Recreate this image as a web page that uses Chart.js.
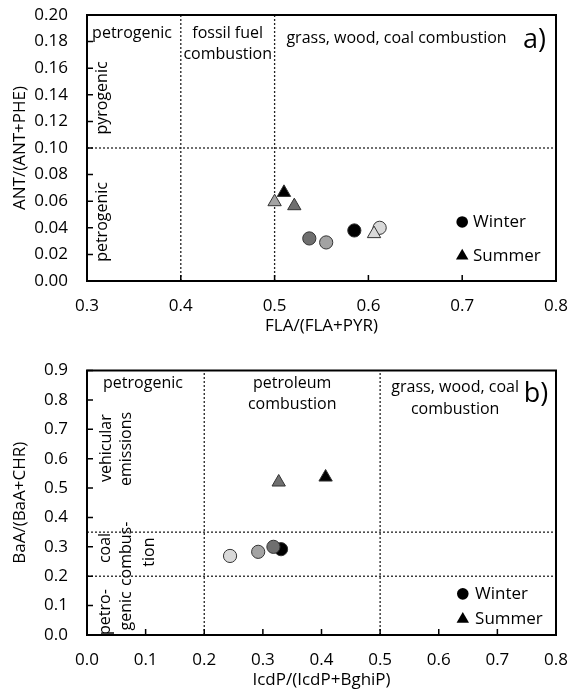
<!DOCTYPE html>
<html>
<head>
<meta charset="utf-8">
<script src="https://cdn.jsdelivr.net/npm/chart.js@4.4.1/dist/chart.umd.min.js"></script>
<style>
  html, body { margin: 0; padding: 0; background: #fff; overflow: hidden; }
  .panel { position: absolute; left: 0; width: 570px; overflow: hidden; }
  .panel canvas { display: block; }
  #wrapA { top: 0; height: 335px; }
  #wrapB { top: 335px; height: 354px; }
</style>
</head>
<body>
<div class="panel" id="wrapA"><canvas id="chartA"></canvas></div>
<div class="panel" id="wrapB"><canvas id="chartB"></canvas></div>
<script>
/* ---- panel a) FLA/(FLA+PYR) vs ANT/(ANT+PHE) ---- */
const aWinterX = [0.537, 0.555, 0.585, 0.612];
const aWinterY = [0.032, 0.029, 0.038, 0.040];
const aWinterShade = ['dark', 'mid', 'black', 'light'];
const aSummerX = [0.500, 0.510, 0.521, 0.606];
const aSummerY = [0.0595, 0.0665, 0.0565, 0.0355];
const aSummerShade = ['mid', 'black', 'dark', 'light'];
const aXTicks = [0.3, 0.4, 0.5, 0.6, 0.7, 0.8];
const aYTicks = [0, 0.02, 0.04, 0.06, 0.08, 0.10, 0.12, 0.14, 0.16, 0.18, 0.20];
const aDivX = [0.4, 0.5];
const aDivY = [0.1];

/* ---- panel b) IcdP/(IcdP+BghiP) vs BaA/(BaA+CHR) ---- */
const bWinterX = [0.244, 0.292, 0.331, 0.318];
const bWinterY = [0.269, 0.283, 0.292, 0.300];
const bWinterShade = ['light', 'mid', 'black', 'dark'];
const bSummerX = [0.327, 0.407];
const bSummerY = [0.520, 0.537];
const bSummerShade = ['dark', 'black'];
const bXTicks = [0, 0.1, 0.2, 0.3, 0.4, 0.5, 0.6, 0.7, 0.8];
const bYTicks = [0, 0.1, 0.2, 0.3, 0.4, 0.5, 0.6, 0.7, 0.8, 0.9];
const bDivX = [0.2, 0.5];
const bDivY = [0.2, 0.35];

var SHADES = { black: '#000000', dark: '#6f6f6f', mid: '#a3a3a3', light: '#d9d9d9' };
var FONT = '"Open Sans", "DejaVu Sans", sans-serif';
Chart.defaults.font.family = FONT;
Chart.defaults.color = '#000';

function pts(xs, ys) { return xs.map(function (x, i) { return { x: x, y: ys[i] }; }); }

function dividers(divX, divY, xt, yt) {
  var out = [];
  divX.forEach(function (x) { out.push([{ x: x, y: yt[0] }, { x: x, y: yt[yt.length - 1] }]); });
  divY.forEach(function (y) { out.push([{ x: xt[0], y: y }, { x: xt[xt.length - 1], y: y }]); });
  return out.map(function (d) {
    return { data: d, showLine: true, borderColor: '#222', borderWidth: 1.3,
             borderDash: [2, 2], pointRadius: 0, order: 10 };
  });
}

/* frame, inward ticks, region texts and the legend */
var panelPlugin = {
  id: 'panel',
  afterDraw: function (chart) {
    var o = chart.options.plugins.panel;
    var ctx = chart.ctx, a = chart.chartArea;
    var sx = chart.scales.x, sy = chart.scales.y;
    ctx.save();
    ctx.strokeStyle = '#000';
    ctx.lineWidth = 1.5;
    ctx.beginPath();
    sy.ticks.forEach(function (t) {
      var p = sy.getPixelForValue(t.value);
      ctx.moveTo(a.left, p); ctx.lineTo(a.left + 6, p);
    });
    sx.ticks.forEach(function (t) {
      var p = sx.getPixelForValue(t.value);
      ctx.moveTo(p, a.bottom); ctx.lineTo(p, a.bottom - 6);
    });
    ctx.stroke();
    ctx.lineWidth = 2;
    ctx.strokeRect(a.left, a.top, a.right - a.left, a.bottom - a.top);

    ctx.fillStyle = '#000';
    ctx.textBaseline = 'middle';
    o.texts.forEach(function (t) {
      var x = sx.getPixelForValue(t.x), y = sy.getPixelForValue(t.y);
      ctx.font = (t.size || 16) + 'px ' + FONT;
      ctx.save();
      ctx.translate(x, y);
      if (t.rot) ctx.rotate(-Math.PI / 2);
      ctx.textAlign = 'center';
      ctx.fillText(t.t, 0, 0);
      ctx.restore();
    });

    // legend
    var lx = sx.getPixelForValue(o.legend.x);
    var tx = sx.getPixelForValue(o.legend.tx);
    var y1 = sy.getPixelForValue(o.legend.y1), y2 = sy.getPixelForValue(o.legend.y2);
    ctx.beginPath(); ctx.arc(lx, y1, 5.8, 0, Math.PI * 2); ctx.fill();
    var r = 7.2;
    ctx.beginPath();
    ctx.moveTo(lx, y2 - r);
    ctx.lineTo(lx + r * 0.866, y2 + r / 2);
    ctx.lineTo(lx - r * 0.866, y2 + r / 2);
    ctx.closePath(); ctx.fill();
    ctx.font = '17px ' + FONT;
    ctx.textAlign = 'left';
    ctx.fillText('Winter', tx, y1);
    ctx.fillText('Summer', tx, y2);
    ctx.restore();
  }
};

function makePanel(id, c) {
  var datasets = [
    { data: pts(c.sx, c.sy), pointStyle: 'triangle', pointRadius: 7.7,
      backgroundColor: c.sShade.map(function (s) { return SHADES[s]; }),
      borderColor: '#333', borderWidth: 1, order: 1 },
    { data: pts(c.wx, c.wy), pointStyle: 'circle', pointRadius: 6.6,
      backgroundColor: c.wShade.map(function (s) { return SHADES[s]; }),
      borderColor: '#333', borderWidth: 1, order: 2 }
  ].concat(dividers(c.divX, c.divY, c.xTicks, c.yTicks));

  return new Chart(document.getElementById(id), {
    type: 'scatter',
    data: { datasets: datasets },
    options: {
      responsive: true, maintainAspectRatio: false, animation: false,
      layout: { padding: { left: 0, right: 14, top: c.padTop, bottom: 0 } },
      plugins: {
        legend: { display: false }, tooltip: { enabled: false },
        panel: { texts: c.texts, legend: c.legend }
      },
      scales: {
        x: {
          type: 'linear', min: c.xTicks[0], max: c.xTicks[c.xTicks.length - 1],
          afterBuildTicks: function (s) { s.ticks = c.xTicks.map(function (v) { return { value: v }; }); },
          afterFit: function (s) { s.height = c.xAxisH; },
          // tick marks are drawn inward by the plugin; tickLength only spaces the labels
          grid: { display: false, drawTicks: true, tickLength: 15 }, border: { display: false },
          ticks: { padding: 0, font: { size: 17 }, maxRotation: 0, autoSkip: false,
                   callback: function (v) { return v.toFixed(1); } },
          title: { display: true, text: c.xTitle, font: { size: 17, lineHeight: 1 }, padding: 0 }
        },
        y: {
          type: 'linear', min: c.yTicks[0], max: c.yTicks[c.yTicks.length - 1],
          afterBuildTicks: function (s) { s.ticks = c.yTicks.map(function (v) { return { value: v }; }); },
          afterFit: function (s) { s.width = 87; },
          grid: { display: false, drawTicks: true, tickLength: 19 }, border: { display: false },
          ticks: { padding: 0, font: { size: 17 }, autoSkip: false,
                   callback: function (v) { return v.toFixed(c.yDec); } },
          title: { display: true, text: c.yTitle, font: { size: 17, lineHeight: 1 }, padding: { top: 12, bottom: 0 } }
        }
      }
    },
    plugins: [panelPlugin]
  });
}

makePanel('chartA', {
  wx: aWinterX, wy: aWinterY, wShade: aWinterShade,
  sx: aSummerX, sy: aSummerY, sShade: aSummerShade,
  xTicks: aXTicks, yTicks: aYTicks, divX: aDivX, divY: aDivY, yDec: 2,
  padTop: 15, xAxisH: 54,
  xTitle: 'FLA/(FLA+PYR)', yTitle: 'ANT/(ANT+PHE)',
  texts: [
    { t: 'petrogenic', x: 0.348, y: 0.1865 },
    { t: 'fossil fuel', x: 0.45, y: 0.1865 },
    { t: 'combustion', x: 0.45, y: 0.170 },
    { t: 'grass, wood, coal combustion', x: 0.63, y: 0.1827 },
    { t: 'a)', x: 0.777, y: 0.181, size: 27 },
    { t: 'pyrogenic', x: 0.316, y: 0.1376, rot: true },
    { t: 'petrogenic', x: 0.316, y: 0.0444, rot: true }
  ],
  legend: { x: 0.7, tx: 0.7115, y1: 0.0444, y2: 0.0188 }
});

makePanel('chartB', {
  wx: bWinterX, wy: bWinterY, wShade: bWinterShade,
  sx: bSummerX, sy: bSummerY, sShade: bSummerShade,
  xTicks: bXTicks, yTicks: bYTicks, divX: bDivX, divY: bDivY, yDec: 1,
  padTop: 35.5, xAxisH: 54,
  xTitle: 'IcdP/(IcdP+BghiP)', yTitle: 'BaA/(BaA+CHR)',
  texts: [
    { t: 'petrogenic', x: 0.0955, y: 0.857 },
    { t: 'petroleum', x: 0.35, y: 0.857 },
    { t: 'combustion', x: 0.35, y: 0.783 },
    { t: 'grass, wood, coal', x: 0.628, y: 0.844 },
    { t: 'combustion', x: 0.628, y: 0.769 },
    { t: 'b)', x: 0.766, y: 0.82, size: 27 },
    { t: 'vehicular', x: 0.034, y: 0.636, rot: true },
    { t: 'emissions', x: 0.068, y: 0.633, rot: true },
    { t: 'coal', x: 0.031, y: 0.296, rot: true },
    { t: 'combus-', x: 0.068, y: 0.276, rot: true },
    { t: 'tion', x: 0.106, y: 0.282, rot: true },
    { t: 'petro-', x: 0.032, y: 0.078, rot: true },
    { t: 'genic', x: 0.068, y: 0.082, rot: true }
  ],
  legend: { x: 0.641, tx: 0.662, y1: 0.14, y2: 0.054 }
});
</script>
</body>
</html>
